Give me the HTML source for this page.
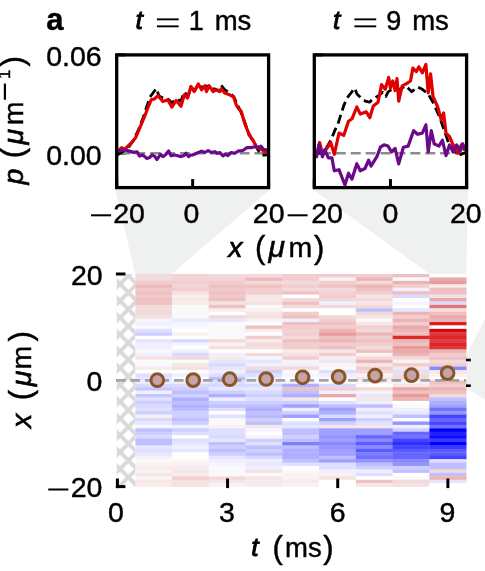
<!DOCTYPE html>
<html><head><meta charset="utf-8"><style>
html,body{margin:0;padding:0;background:#fff;width:485px;height:571px;overflow:hidden;position:relative}
text{font-family:"Liberation Sans",sans-serif;stroke:#000;stroke-width:0.45px}
</style></head><body>
<svg width="485" height="571" viewBox="0 0 485 571" style="position:absolute;left:0;top:0;will-change:transform">
<defs><pattern id="hatch" patternUnits="userSpaceOnUse" width="16.8" height="16.8" x="120.0" y="267.3"><rect width="16.8" height="16.8" fill="#fff"/><path d="M-3,-3 L19.8,19.8 M19.8,-3 L-3,19.8 M-3,13.8 L3,19.8 M13.8,-3 L19.8,3 M-3,3 L3,-3 M13.8,19.8 L19.8,13.8" stroke="#d9d9d9" stroke-width="3.9"/></pattern></defs>
<polygon points="115.2,189.2 270.1,189.2 171.9,274.0 135.2,274.0" fill="#eff0f0"/>
<polygon points="312.8,189.2 468.1,189.2 466.2,274.0 429.5,274.0" fill="#eff0f0"/>
<polygon points="466.2,356 485,319 485,399.5 466.2,388" fill="#eff0f0"/>
<rect x="135.20" y="274.00" width="37.08" height="3.73" fill="rgb(243,218,218)"/>
<rect x="135.20" y="277.43" width="37.08" height="3.73" fill="rgb(243,218,218)"/>
<rect x="135.20" y="280.86" width="37.08" height="3.73" fill="rgb(241,205,206)"/>
<rect x="135.20" y="284.29" width="37.08" height="3.73" fill="rgb(238,185,186)"/>
<rect x="135.20" y="287.72" width="37.08" height="3.73" fill="rgb(240,200,201)"/>
<rect x="135.20" y="291.15" width="37.08" height="3.73" fill="rgb(239,192,193)"/>
<rect x="135.20" y="294.57" width="37.08" height="3.73" fill="rgb(240,200,201)"/>
<rect x="135.20" y="298.00" width="37.08" height="3.73" fill="rgb(239,192,193)"/>
<rect x="135.20" y="301.43" width="37.08" height="3.73" fill="rgb(239,192,193)"/>
<rect x="135.20" y="304.86" width="37.08" height="3.73" fill="rgb(243,218,218)"/>
<rect x="135.20" y="308.29" width="37.08" height="3.73" fill="rgb(243,218,218)"/>
<rect x="135.20" y="311.72" width="37.08" height="3.73" fill="rgb(243,218,218)"/>
<rect x="135.20" y="315.15" width="37.08" height="3.73" fill="rgb(245,225,225)"/>
<rect x="135.20" y="318.58" width="37.08" height="3.73" fill="rgb(245,245,255)"/>
<rect x="135.20" y="322.01" width="37.08" height="3.73" fill="rgb(239,239,255)"/>
<rect x="135.20" y="325.44" width="37.08" height="3.73" fill="rgb(249,249,255)"/>
<rect x="135.20" y="328.86" width="37.08" height="3.73" fill="rgb(223,223,255)"/>
<rect x="135.20" y="332.29" width="37.08" height="3.73" fill="rgb(207,207,255)"/>
<rect x="135.20" y="335.72" width="37.08" height="3.73" fill="rgb(255,255,255)"/>
<rect x="135.20" y="339.15" width="37.08" height="3.73" fill="rgb(230,230,255)"/>
<rect x="135.20" y="342.58" width="37.08" height="3.73" fill="rgb(239,239,255)"/>
<rect x="135.20" y="346.01" width="37.08" height="3.73" fill="rgb(239,239,255)"/>
<rect x="135.20" y="349.44" width="37.08" height="3.73" fill="rgb(250,248,248)"/>
<rect x="135.20" y="352.87" width="37.08" height="3.73" fill="rgb(239,239,255)"/>
<rect x="135.20" y="356.30" width="37.08" height="3.73" fill="rgb(245,225,225)"/>
<rect x="135.20" y="359.73" width="37.08" height="3.73" fill="rgb(251,250,250)"/>
<rect x="135.20" y="363.15" width="37.08" height="3.73" fill="rgb(249,249,255)"/>
<rect x="135.20" y="366.58" width="37.08" height="3.73" fill="rgb(247,235,235)"/>
<rect x="135.20" y="370.01" width="37.08" height="3.73" fill="rgb(255,255,255)"/>
<rect x="135.20" y="373.44" width="37.08" height="3.73" fill="rgb(223,223,255)"/>
<rect x="135.20" y="376.87" width="37.08" height="3.73" fill="rgb(230,230,255)"/>
<rect x="135.20" y="380.30" width="37.08" height="3.73" fill="rgb(239,239,255)"/>
<rect x="135.20" y="383.73" width="37.08" height="3.73" fill="rgb(217,217,255)"/>
<rect x="135.20" y="387.16" width="37.08" height="3.73" fill="rgb(198,198,255)"/>
<rect x="135.20" y="390.59" width="37.08" height="3.73" fill="rgb(239,239,255)"/>
<rect x="135.20" y="394.02" width="37.08" height="3.73" fill="rgb(198,198,255)"/>
<rect x="135.20" y="397.45" width="37.08" height="3.73" fill="rgb(223,223,255)"/>
<rect x="135.20" y="400.87" width="37.08" height="3.73" fill="rgb(207,207,255)"/>
<rect x="135.20" y="404.30" width="37.08" height="3.73" fill="rgb(217,217,255)"/>
<rect x="135.20" y="407.73" width="37.08" height="3.73" fill="rgb(223,223,255)"/>
<rect x="135.20" y="411.16" width="37.08" height="3.73" fill="rgb(207,207,255)"/>
<rect x="135.20" y="414.59" width="37.08" height="3.73" fill="rgb(248,240,240)"/>
<rect x="135.20" y="418.02" width="37.08" height="3.73" fill="rgb(217,217,255)"/>
<rect x="135.20" y="421.45" width="37.08" height="3.73" fill="rgb(230,230,255)"/>
<rect x="135.20" y="424.88" width="37.08" height="3.73" fill="rgb(245,245,255)"/>
<rect x="135.20" y="428.31" width="37.08" height="3.73" fill="rgb(191,191,255)"/>
<rect x="135.20" y="431.74" width="37.08" height="3.73" fill="rgb(207,207,255)"/>
<rect x="135.20" y="435.16" width="37.08" height="3.73" fill="rgb(217,217,255)"/>
<rect x="135.20" y="438.59" width="37.08" height="3.73" fill="rgb(191,191,255)"/>
<rect x="135.20" y="442.02" width="37.08" height="3.73" fill="rgb(191,191,255)"/>
<rect x="135.20" y="445.45" width="37.08" height="3.73" fill="rgb(230,230,255)"/>
<rect x="135.20" y="448.88" width="37.08" height="3.73" fill="rgb(223,223,255)"/>
<rect x="135.20" y="452.31" width="37.08" height="3.73" fill="rgb(230,230,255)"/>
<rect x="135.20" y="455.74" width="37.08" height="3.73" fill="rgb(249,242,243)"/>
<rect x="135.20" y="459.17" width="37.08" height="3.73" fill="rgb(251,250,250)"/>
<rect x="135.20" y="462.60" width="37.08" height="3.73" fill="rgb(249,242,243)"/>
<rect x="135.20" y="466.03" width="37.08" height="3.73" fill="rgb(247,235,235)"/>
<rect x="135.20" y="469.45" width="37.08" height="3.73" fill="rgb(249,242,243)"/>
<rect x="135.20" y="472.88" width="37.08" height="3.73" fill="rgb(246,230,230)"/>
<rect x="135.20" y="476.31" width="37.08" height="3.73" fill="rgb(249,242,243)"/>
<rect x="135.20" y="479.74" width="37.08" height="3.73" fill="rgb(246,230,230)"/>
<rect x="135.20" y="483.17" width="37.08" height="3.73" fill="rgb(247,235,235)"/>
<rect x="171.98" y="274.00" width="37.08" height="3.73" fill="rgb(242,212,213)"/>
<rect x="171.98" y="277.43" width="37.08" height="3.73" fill="rgb(242,212,213)"/>
<rect x="171.98" y="280.86" width="37.08" height="3.73" fill="rgb(241,205,206)"/>
<rect x="171.98" y="284.29" width="37.08" height="3.73" fill="rgb(242,212,213)"/>
<rect x="171.98" y="287.72" width="37.08" height="3.73" fill="rgb(241,205,206)"/>
<rect x="171.98" y="291.15" width="37.08" height="3.73" fill="rgb(245,225,225)"/>
<rect x="171.98" y="294.57" width="37.08" height="3.73" fill="rgb(247,238,238)"/>
<rect x="171.98" y="298.00" width="37.08" height="3.73" fill="rgb(246,230,230)"/>
<rect x="171.98" y="301.43" width="37.08" height="3.73" fill="rgb(247,235,235)"/>
<rect x="171.98" y="304.86" width="37.08" height="3.73" fill="rgb(250,248,248)"/>
<rect x="171.98" y="308.29" width="37.08" height="3.73" fill="rgb(251,250,250)"/>
<rect x="171.98" y="311.72" width="37.08" height="3.73" fill="rgb(250,248,248)"/>
<rect x="171.98" y="315.15" width="37.08" height="3.73" fill="rgb(251,250,250)"/>
<rect x="171.98" y="318.58" width="37.08" height="3.73" fill="rgb(233,233,255)"/>
<rect x="171.98" y="322.01" width="37.08" height="3.73" fill="rgb(245,245,255)"/>
<rect x="171.98" y="325.44" width="37.08" height="3.73" fill="rgb(249,249,255)"/>
<rect x="171.98" y="328.86" width="37.08" height="3.73" fill="rgb(255,255,255)"/>
<rect x="171.98" y="332.29" width="37.08" height="3.73" fill="rgb(249,242,243)"/>
<rect x="171.98" y="335.72" width="37.08" height="3.73" fill="rgb(255,255,255)"/>
<rect x="171.98" y="339.15" width="37.08" height="3.73" fill="rgb(217,217,255)"/>
<rect x="171.98" y="342.58" width="37.08" height="3.73" fill="rgb(245,245,255)"/>
<rect x="171.98" y="346.01" width="37.08" height="3.73" fill="rgb(255,255,255)"/>
<rect x="171.98" y="349.44" width="37.08" height="3.73" fill="rgb(239,239,255)"/>
<rect x="171.98" y="352.87" width="37.08" height="3.73" fill="rgb(217,217,255)"/>
<rect x="171.98" y="356.30" width="37.08" height="3.73" fill="rgb(243,218,218)"/>
<rect x="171.98" y="359.73" width="37.08" height="3.73" fill="rgb(251,250,250)"/>
<rect x="171.98" y="363.15" width="37.08" height="3.73" fill="rgb(246,230,230)"/>
<rect x="171.98" y="366.58" width="37.08" height="3.73" fill="rgb(245,225,225)"/>
<rect x="171.98" y="370.01" width="37.08" height="3.73" fill="rgb(255,255,255)"/>
<rect x="171.98" y="373.44" width="37.08" height="3.73" fill="rgb(239,239,255)"/>
<rect x="171.98" y="376.87" width="37.08" height="3.73" fill="rgb(255,255,255)"/>
<rect x="171.98" y="380.30" width="37.08" height="3.73" fill="rgb(239,239,255)"/>
<rect x="171.98" y="383.73" width="37.08" height="3.73" fill="rgb(217,217,255)"/>
<rect x="171.98" y="387.16" width="37.08" height="3.73" fill="rgb(207,207,255)"/>
<rect x="171.98" y="390.59" width="37.08" height="3.73" fill="rgb(191,191,255)"/>
<rect x="171.98" y="394.02" width="37.08" height="3.73" fill="rgb(207,207,255)"/>
<rect x="171.98" y="397.45" width="37.08" height="3.73" fill="rgb(175,175,255)"/>
<rect x="171.98" y="400.87" width="37.08" height="3.73" fill="rgb(191,191,255)"/>
<rect x="171.98" y="404.30" width="37.08" height="3.73" fill="rgb(175,175,255)"/>
<rect x="171.98" y="407.73" width="37.08" height="3.73" fill="rgb(191,191,255)"/>
<rect x="171.98" y="411.16" width="37.08" height="3.73" fill="rgb(207,207,255)"/>
<rect x="171.98" y="414.59" width="37.08" height="3.73" fill="rgb(207,207,255)"/>
<rect x="171.98" y="418.02" width="37.08" height="3.73" fill="rgb(191,191,255)"/>
<rect x="171.98" y="421.45" width="37.08" height="3.73" fill="rgb(207,207,255)"/>
<rect x="171.98" y="424.88" width="37.08" height="3.73" fill="rgb(239,239,255)"/>
<rect x="171.98" y="428.31" width="37.08" height="3.73" fill="rgb(207,207,255)"/>
<rect x="171.98" y="431.74" width="37.08" height="3.73" fill="rgb(223,223,255)"/>
<rect x="171.98" y="435.16" width="37.08" height="3.73" fill="rgb(255,255,255)"/>
<rect x="171.98" y="438.59" width="37.08" height="3.73" fill="rgb(223,223,255)"/>
<rect x="171.98" y="442.02" width="37.08" height="3.73" fill="rgb(230,230,255)"/>
<rect x="171.98" y="445.45" width="37.08" height="3.73" fill="rgb(239,239,255)"/>
<rect x="171.98" y="448.88" width="37.08" height="3.73" fill="rgb(230,230,255)"/>
<rect x="171.98" y="452.31" width="37.08" height="3.73" fill="rgb(255,255,255)"/>
<rect x="171.98" y="455.74" width="37.08" height="3.73" fill="rgb(255,255,255)"/>
<rect x="171.98" y="459.17" width="37.08" height="3.73" fill="rgb(250,248,248)"/>
<rect x="171.98" y="462.60" width="37.08" height="3.73" fill="rgb(249,242,243)"/>
<rect x="171.98" y="466.03" width="37.08" height="3.73" fill="rgb(247,235,235)"/>
<rect x="171.98" y="469.45" width="37.08" height="3.73" fill="rgb(246,230,230)"/>
<rect x="171.98" y="472.88" width="37.08" height="3.73" fill="rgb(247,235,235)"/>
<rect x="171.98" y="476.31" width="37.08" height="3.73" fill="rgb(241,205,206)"/>
<rect x="171.98" y="479.74" width="37.08" height="3.73" fill="rgb(245,225,225)"/>
<rect x="171.98" y="483.17" width="37.08" height="3.73" fill="rgb(245,225,225)"/>
<rect x="208.76" y="274.00" width="37.08" height="3.73" fill="rgb(243,218,218)"/>
<rect x="208.76" y="277.43" width="37.08" height="3.73" fill="rgb(242,210,211)"/>
<rect x="208.76" y="280.86" width="37.08" height="3.73" fill="rgb(241,205,206)"/>
<rect x="208.76" y="284.29" width="37.08" height="3.73" fill="rgb(239,192,193)"/>
<rect x="208.76" y="287.72" width="37.08" height="3.73" fill="rgb(240,200,201)"/>
<rect x="208.76" y="291.15" width="37.08" height="3.73" fill="rgb(239,192,193)"/>
<rect x="208.76" y="294.57" width="37.08" height="3.73" fill="rgb(240,200,201)"/>
<rect x="208.76" y="298.00" width="37.08" height="3.73" fill="rgb(239,192,193)"/>
<rect x="208.76" y="301.43" width="37.08" height="3.73" fill="rgb(245,225,225)"/>
<rect x="208.76" y="304.86" width="37.08" height="3.73" fill="rgb(239,192,193)"/>
<rect x="208.76" y="308.29" width="37.08" height="3.73" fill="rgb(247,235,235)"/>
<rect x="208.76" y="311.72" width="37.08" height="3.73" fill="rgb(255,255,255)"/>
<rect x="208.76" y="315.15" width="37.08" height="3.73" fill="rgb(243,218,218)"/>
<rect x="208.76" y="318.58" width="37.08" height="3.73" fill="rgb(230,230,255)"/>
<rect x="208.76" y="322.01" width="37.08" height="3.73" fill="rgb(251,250,250)"/>
<rect x="208.76" y="325.44" width="37.08" height="3.73" fill="rgb(250,248,248)"/>
<rect x="208.76" y="328.86" width="37.08" height="3.73" fill="rgb(250,248,248)"/>
<rect x="208.76" y="332.29" width="37.08" height="3.73" fill="rgb(251,250,250)"/>
<rect x="208.76" y="335.72" width="37.08" height="3.73" fill="rgb(250,248,248)"/>
<rect x="208.76" y="339.15" width="37.08" height="3.73" fill="rgb(243,218,218)"/>
<rect x="208.76" y="342.58" width="37.08" height="3.73" fill="rgb(249,242,243)"/>
<rect x="208.76" y="346.01" width="37.08" height="3.73" fill="rgb(245,225,225)"/>
<rect x="208.76" y="349.44" width="37.08" height="3.73" fill="rgb(255,255,255)"/>
<rect x="208.76" y="352.87" width="37.08" height="3.73" fill="rgb(239,239,255)"/>
<rect x="208.76" y="356.30" width="37.08" height="3.73" fill="rgb(247,235,235)"/>
<rect x="208.76" y="359.73" width="37.08" height="3.73" fill="rgb(230,230,255)"/>
<rect x="208.76" y="363.15" width="37.08" height="3.73" fill="rgb(217,217,255)"/>
<rect x="208.76" y="366.58" width="37.08" height="3.73" fill="rgb(230,230,255)"/>
<rect x="208.76" y="370.01" width="37.08" height="3.73" fill="rgb(239,239,255)"/>
<rect x="208.76" y="373.44" width="37.08" height="3.73" fill="rgb(223,223,255)"/>
<rect x="208.76" y="376.87" width="37.08" height="3.73" fill="rgb(191,191,255)"/>
<rect x="208.76" y="380.30" width="37.08" height="3.73" fill="rgb(223,223,255)"/>
<rect x="208.76" y="383.73" width="37.08" height="3.73" fill="rgb(217,217,255)"/>
<rect x="208.76" y="387.16" width="37.08" height="3.73" fill="rgb(230,230,255)"/>
<rect x="208.76" y="390.59" width="37.08" height="3.73" fill="rgb(207,207,255)"/>
<rect x="208.76" y="394.02" width="37.08" height="3.73" fill="rgb(175,175,255)"/>
<rect x="208.76" y="397.45" width="37.08" height="3.73" fill="rgb(239,239,255)"/>
<rect x="208.76" y="400.87" width="37.08" height="3.73" fill="rgb(207,207,255)"/>
<rect x="208.76" y="404.30" width="37.08" height="3.73" fill="rgb(191,191,255)"/>
<rect x="208.76" y="407.73" width="37.08" height="3.73" fill="rgb(223,223,255)"/>
<rect x="208.76" y="411.16" width="37.08" height="3.73" fill="rgb(255,255,255)"/>
<rect x="208.76" y="414.59" width="37.08" height="3.73" fill="rgb(223,223,255)"/>
<rect x="208.76" y="418.02" width="37.08" height="3.73" fill="rgb(250,248,248)"/>
<rect x="208.76" y="421.45" width="37.08" height="3.73" fill="rgb(251,250,250)"/>
<rect x="208.76" y="424.88" width="37.08" height="3.73" fill="rgb(249,242,243)"/>
<rect x="208.76" y="428.31" width="37.08" height="3.73" fill="rgb(223,223,255)"/>
<rect x="208.76" y="431.74" width="37.08" height="3.73" fill="rgb(223,223,255)"/>
<rect x="208.76" y="435.16" width="37.08" height="3.73" fill="rgb(217,217,255)"/>
<rect x="208.76" y="438.59" width="37.08" height="3.73" fill="rgb(230,230,255)"/>
<rect x="208.76" y="442.02" width="37.08" height="3.73" fill="rgb(191,191,255)"/>
<rect x="208.76" y="445.45" width="37.08" height="3.73" fill="rgb(207,207,255)"/>
<rect x="208.76" y="448.88" width="37.08" height="3.73" fill="rgb(191,191,255)"/>
<rect x="208.76" y="452.31" width="37.08" height="3.73" fill="rgb(207,207,255)"/>
<rect x="208.76" y="455.74" width="37.08" height="3.73" fill="rgb(230,230,255)"/>
<rect x="208.76" y="459.17" width="37.08" height="3.73" fill="rgb(239,239,255)"/>
<rect x="208.76" y="462.60" width="37.08" height="3.73" fill="rgb(245,245,255)"/>
<rect x="208.76" y="466.03" width="37.08" height="3.73" fill="rgb(251,250,250)"/>
<rect x="208.76" y="469.45" width="37.08" height="3.73" fill="rgb(250,248,248)"/>
<rect x="208.76" y="472.88" width="37.08" height="3.73" fill="rgb(249,249,255)"/>
<rect x="208.76" y="476.31" width="37.08" height="3.73" fill="rgb(243,218,218)"/>
<rect x="208.76" y="479.74" width="37.08" height="3.73" fill="rgb(246,230,230)"/>
<rect x="208.76" y="483.17" width="37.08" height="3.73" fill="rgb(249,242,243)"/>
<rect x="245.53" y="274.00" width="37.08" height="3.73" fill="rgb(243,218,218)"/>
<rect x="245.53" y="277.43" width="37.08" height="3.73" fill="rgb(238,185,186)"/>
<rect x="245.53" y="280.86" width="37.08" height="3.73" fill="rgb(243,218,218)"/>
<rect x="245.53" y="284.29" width="37.08" height="3.73" fill="rgb(239,192,193)"/>
<rect x="245.53" y="287.72" width="37.08" height="3.73" fill="rgb(241,205,206)"/>
<rect x="245.53" y="291.15" width="37.08" height="3.73" fill="rgb(241,205,206)"/>
<rect x="245.53" y="294.57" width="37.08" height="3.73" fill="rgb(246,230,230)"/>
<rect x="245.53" y="298.00" width="37.08" height="3.73" fill="rgb(246,230,230)"/>
<rect x="245.53" y="301.43" width="37.08" height="3.73" fill="rgb(245,225,225)"/>
<rect x="245.53" y="304.86" width="37.08" height="3.73" fill="rgb(250,248,248)"/>
<rect x="245.53" y="308.29" width="37.08" height="3.73" fill="rgb(249,242,243)"/>
<rect x="245.53" y="311.72" width="37.08" height="3.73" fill="rgb(246,230,230)"/>
<rect x="245.53" y="315.15" width="37.08" height="3.73" fill="rgb(245,225,225)"/>
<rect x="245.53" y="318.58" width="37.08" height="3.73" fill="rgb(249,242,243)"/>
<rect x="245.53" y="322.01" width="37.08" height="3.73" fill="rgb(255,255,255)"/>
<rect x="245.53" y="325.44" width="37.08" height="3.73" fill="rgb(239,192,193)"/>
<rect x="245.53" y="328.86" width="37.08" height="3.73" fill="rgb(247,235,235)"/>
<rect x="245.53" y="332.29" width="37.08" height="3.73" fill="rgb(255,255,255)"/>
<rect x="245.53" y="335.72" width="37.08" height="3.73" fill="rgb(241,205,206)"/>
<rect x="245.53" y="339.15" width="37.08" height="3.73" fill="rgb(247,235,235)"/>
<rect x="245.53" y="342.58" width="37.08" height="3.73" fill="rgb(243,218,218)"/>
<rect x="245.53" y="346.01" width="37.08" height="3.73" fill="rgb(245,225,225)"/>
<rect x="245.53" y="349.44" width="37.08" height="3.73" fill="rgb(255,255,255)"/>
<rect x="245.53" y="352.87" width="37.08" height="3.73" fill="rgb(243,218,218)"/>
<rect x="245.53" y="356.30" width="37.08" height="3.73" fill="rgb(245,245,255)"/>
<rect x="245.53" y="359.73" width="37.08" height="3.73" fill="rgb(230,230,255)"/>
<rect x="245.53" y="363.15" width="37.08" height="3.73" fill="rgb(239,239,255)"/>
<rect x="245.53" y="366.58" width="37.08" height="3.73" fill="rgb(243,218,218)"/>
<rect x="245.53" y="370.01" width="37.08" height="3.73" fill="rgb(207,207,255)"/>
<rect x="245.53" y="373.44" width="37.08" height="3.73" fill="rgb(223,223,255)"/>
<rect x="245.53" y="376.87" width="37.08" height="3.73" fill="rgb(239,239,255)"/>
<rect x="245.53" y="380.30" width="37.08" height="3.73" fill="rgb(239,239,255)"/>
<rect x="245.53" y="383.73" width="37.08" height="3.73" fill="rgb(217,217,255)"/>
<rect x="245.53" y="387.16" width="37.08" height="3.73" fill="rgb(230,230,255)"/>
<rect x="245.53" y="390.59" width="37.08" height="3.73" fill="rgb(217,217,255)"/>
<rect x="245.53" y="394.02" width="37.08" height="3.73" fill="rgb(207,207,255)"/>
<rect x="245.53" y="397.45" width="37.08" height="3.73" fill="rgb(223,223,255)"/>
<rect x="245.53" y="400.87" width="37.08" height="3.73" fill="rgb(207,207,255)"/>
<rect x="245.53" y="404.30" width="37.08" height="3.73" fill="rgb(191,191,255)"/>
<rect x="245.53" y="407.73" width="37.08" height="3.73" fill="rgb(175,175,255)"/>
<rect x="245.53" y="411.16" width="37.08" height="3.73" fill="rgb(191,191,255)"/>
<rect x="245.53" y="414.59" width="37.08" height="3.73" fill="rgb(185,185,255)"/>
<rect x="245.53" y="418.02" width="37.08" height="3.73" fill="rgb(207,207,255)"/>
<rect x="245.53" y="421.45" width="37.08" height="3.73" fill="rgb(191,191,255)"/>
<rect x="245.53" y="424.88" width="37.08" height="3.73" fill="rgb(246,230,230)"/>
<rect x="245.53" y="428.31" width="37.08" height="3.73" fill="rgb(245,245,255)"/>
<rect x="245.53" y="431.74" width="37.08" height="3.73" fill="rgb(255,255,255)"/>
<rect x="245.53" y="435.16" width="37.08" height="3.73" fill="rgb(245,245,255)"/>
<rect x="245.53" y="438.59" width="37.08" height="3.73" fill="rgb(207,207,255)"/>
<rect x="245.53" y="442.02" width="37.08" height="3.73" fill="rgb(223,223,255)"/>
<rect x="245.53" y="445.45" width="37.08" height="3.73" fill="rgb(191,191,255)"/>
<rect x="245.53" y="448.88" width="37.08" height="3.73" fill="rgb(207,207,255)"/>
<rect x="245.53" y="452.31" width="37.08" height="3.73" fill="rgb(191,191,255)"/>
<rect x="245.53" y="455.74" width="37.08" height="3.73" fill="rgb(217,217,255)"/>
<rect x="245.53" y="459.17" width="37.08" height="3.73" fill="rgb(239,239,255)"/>
<rect x="245.53" y="462.60" width="37.08" height="3.73" fill="rgb(230,230,255)"/>
<rect x="245.53" y="466.03" width="37.08" height="3.73" fill="rgb(239,239,255)"/>
<rect x="245.53" y="469.45" width="37.08" height="3.73" fill="rgb(245,225,225)"/>
<rect x="245.53" y="472.88" width="37.08" height="3.73" fill="rgb(251,250,250)"/>
<rect x="245.53" y="476.31" width="37.08" height="3.73" fill="rgb(246,230,230)"/>
<rect x="245.53" y="479.74" width="37.08" height="3.73" fill="rgb(247,235,235)"/>
<rect x="245.53" y="483.17" width="37.08" height="3.73" fill="rgb(247,235,235)"/>
<rect x="282.31" y="274.00" width="37.08" height="3.73" fill="rgb(241,205,206)"/>
<rect x="282.31" y="277.43" width="37.08" height="3.73" fill="rgb(241,205,206)"/>
<rect x="282.31" y="280.86" width="37.08" height="3.73" fill="rgb(243,218,218)"/>
<rect x="282.31" y="284.29" width="37.08" height="3.73" fill="rgb(241,205,206)"/>
<rect x="282.31" y="287.72" width="37.08" height="3.73" fill="rgb(243,218,218)"/>
<rect x="282.31" y="291.15" width="37.08" height="3.73" fill="rgb(239,192,193)"/>
<rect x="282.31" y="294.57" width="37.08" height="3.73" fill="rgb(255,255,255)"/>
<rect x="282.31" y="298.00" width="37.08" height="3.73" fill="rgb(243,218,218)"/>
<rect x="282.31" y="301.43" width="37.08" height="3.73" fill="rgb(239,192,193)"/>
<rect x="282.31" y="304.86" width="37.08" height="3.73" fill="rgb(243,218,218)"/>
<rect x="282.31" y="308.29" width="37.08" height="3.73" fill="rgb(255,255,255)"/>
<rect x="282.31" y="311.72" width="37.08" height="3.73" fill="rgb(241,205,206)"/>
<rect x="282.31" y="315.15" width="37.08" height="3.73" fill="rgb(239,192,193)"/>
<rect x="282.31" y="318.58" width="37.08" height="3.73" fill="rgb(239,239,255)"/>
<rect x="282.31" y="322.01" width="37.08" height="3.73" fill="rgb(239,192,193)"/>
<rect x="282.31" y="325.44" width="37.08" height="3.73" fill="rgb(241,205,206)"/>
<rect x="282.31" y="328.86" width="37.08" height="3.73" fill="rgb(242,210,211)"/>
<rect x="282.31" y="332.29" width="37.08" height="3.73" fill="rgb(241,205,206)"/>
<rect x="282.31" y="335.72" width="37.08" height="3.73" fill="rgb(243,218,218)"/>
<rect x="282.31" y="339.15" width="37.08" height="3.73" fill="rgb(239,192,193)"/>
<rect x="282.31" y="342.58" width="37.08" height="3.73" fill="rgb(241,205,206)"/>
<rect x="282.31" y="346.01" width="37.08" height="3.73" fill="rgb(241,205,206)"/>
<rect x="282.31" y="349.44" width="37.08" height="3.73" fill="rgb(247,235,235)"/>
<rect x="282.31" y="352.87" width="37.08" height="3.73" fill="rgb(245,225,225)"/>
<rect x="282.31" y="356.30" width="37.08" height="3.73" fill="rgb(241,205,206)"/>
<rect x="282.31" y="359.73" width="37.08" height="3.73" fill="rgb(249,242,243)"/>
<rect x="282.31" y="363.15" width="37.08" height="3.73" fill="rgb(239,239,255)"/>
<rect x="282.31" y="366.58" width="37.08" height="3.73" fill="rgb(243,218,218)"/>
<rect x="282.31" y="370.01" width="37.08" height="3.73" fill="rgb(251,250,250)"/>
<rect x="282.31" y="373.44" width="37.08" height="3.73" fill="rgb(245,245,255)"/>
<rect x="282.31" y="376.87" width="37.08" height="3.73" fill="rgb(255,255,255)"/>
<rect x="282.31" y="380.30" width="37.08" height="3.73" fill="rgb(245,245,255)"/>
<rect x="282.31" y="383.73" width="37.08" height="3.73" fill="rgb(175,175,255)"/>
<rect x="282.31" y="387.16" width="37.08" height="3.73" fill="rgb(239,192,193)"/>
<rect x="282.31" y="390.59" width="37.08" height="3.73" fill="rgb(191,191,255)"/>
<rect x="282.31" y="394.02" width="37.08" height="3.73" fill="rgb(175,175,255)"/>
<rect x="282.31" y="397.45" width="37.08" height="3.73" fill="rgb(246,230,230)"/>
<rect x="282.31" y="400.87" width="37.08" height="3.73" fill="rgb(207,207,255)"/>
<rect x="282.31" y="404.30" width="37.08" height="3.73" fill="rgb(159,159,255)"/>
<rect x="282.31" y="407.73" width="37.08" height="3.73" fill="rgb(239,239,255)"/>
<rect x="282.31" y="411.16" width="37.08" height="3.73" fill="rgb(207,207,255)"/>
<rect x="282.31" y="414.59" width="37.08" height="3.73" fill="rgb(159,159,255)"/>
<rect x="282.31" y="418.02" width="37.08" height="3.73" fill="rgb(255,255,255)"/>
<rect x="282.31" y="421.45" width="37.08" height="3.73" fill="rgb(223,223,255)"/>
<rect x="282.31" y="424.88" width="37.08" height="3.73" fill="rgb(230,230,255)"/>
<rect x="282.31" y="428.31" width="37.08" height="3.73" fill="rgb(191,191,255)"/>
<rect x="282.31" y="431.74" width="37.08" height="3.73" fill="rgb(191,191,255)"/>
<rect x="282.31" y="435.16" width="37.08" height="3.73" fill="rgb(207,207,255)"/>
<rect x="282.31" y="438.59" width="37.08" height="3.73" fill="rgb(191,191,255)"/>
<rect x="282.31" y="442.02" width="37.08" height="3.73" fill="rgb(125,125,255)"/>
<rect x="282.31" y="445.45" width="37.08" height="3.73" fill="rgb(191,191,255)"/>
<rect x="282.31" y="448.88" width="37.08" height="3.73" fill="rgb(175,175,255)"/>
<rect x="282.31" y="452.31" width="37.08" height="3.73" fill="rgb(175,175,255)"/>
<rect x="282.31" y="455.74" width="37.08" height="3.73" fill="rgb(175,175,255)"/>
<rect x="282.31" y="459.17" width="37.08" height="3.73" fill="rgb(191,191,255)"/>
<rect x="282.31" y="462.60" width="37.08" height="3.73" fill="rgb(223,223,255)"/>
<rect x="282.31" y="466.03" width="37.08" height="3.73" fill="rgb(255,255,255)"/>
<rect x="282.31" y="469.45" width="37.08" height="3.73" fill="rgb(251,250,250)"/>
<rect x="282.31" y="472.88" width="37.08" height="3.73" fill="rgb(249,242,243)"/>
<rect x="282.31" y="476.31" width="37.08" height="3.73" fill="rgb(249,242,243)"/>
<rect x="282.31" y="479.74" width="37.08" height="3.73" fill="rgb(247,235,235)"/>
<rect x="282.31" y="483.17" width="37.08" height="3.73" fill="rgb(249,242,243)"/>
<rect x="319.09" y="274.00" width="37.08" height="3.73" fill="rgb(241,205,206)"/>
<rect x="319.09" y="277.43" width="37.08" height="3.73" fill="rgb(249,242,243)"/>
<rect x="319.09" y="280.86" width="37.08" height="3.73" fill="rgb(241,205,206)"/>
<rect x="319.09" y="284.29" width="37.08" height="3.73" fill="rgb(239,192,193)"/>
<rect x="319.09" y="287.72" width="37.08" height="3.73" fill="rgb(243,218,218)"/>
<rect x="319.09" y="291.15" width="37.08" height="3.73" fill="rgb(242,210,211)"/>
<rect x="319.09" y="294.57" width="37.08" height="3.73" fill="rgb(241,205,206)"/>
<rect x="319.09" y="298.00" width="37.08" height="3.73" fill="rgb(243,218,218)"/>
<rect x="319.09" y="301.43" width="37.08" height="3.73" fill="rgb(239,239,255)"/>
<rect x="319.09" y="304.86" width="37.08" height="3.73" fill="rgb(243,218,218)"/>
<rect x="319.09" y="308.29" width="37.08" height="3.73" fill="rgb(255,255,255)"/>
<rect x="319.09" y="311.72" width="37.08" height="3.73" fill="rgb(255,255,255)"/>
<rect x="319.09" y="315.15" width="37.08" height="3.73" fill="rgb(243,218,218)"/>
<rect x="319.09" y="318.58" width="37.08" height="3.73" fill="rgb(241,205,206)"/>
<rect x="319.09" y="322.01" width="37.08" height="3.73" fill="rgb(239,192,193)"/>
<rect x="319.09" y="325.44" width="37.08" height="3.73" fill="rgb(241,205,206)"/>
<rect x="319.09" y="328.86" width="37.08" height="3.73" fill="rgb(237,180,181)"/>
<rect x="319.09" y="332.29" width="37.08" height="3.73" fill="rgb(234,155,156)"/>
<rect x="319.09" y="335.72" width="37.08" height="3.73" fill="rgb(239,192,193)"/>
<rect x="319.09" y="339.15" width="37.08" height="3.73" fill="rgb(237,180,181)"/>
<rect x="319.09" y="342.58" width="37.08" height="3.73" fill="rgb(241,205,206)"/>
<rect x="319.09" y="346.01" width="37.08" height="3.73" fill="rgb(239,192,193)"/>
<rect x="319.09" y="349.44" width="37.08" height="3.73" fill="rgb(246,230,230)"/>
<rect x="319.09" y="352.87" width="37.08" height="3.73" fill="rgb(241,205,206)"/>
<rect x="319.09" y="356.30" width="37.08" height="3.73" fill="rgb(239,239,255)"/>
<rect x="319.09" y="359.73" width="37.08" height="3.73" fill="rgb(246,230,230)"/>
<rect x="319.09" y="363.15" width="37.08" height="3.73" fill="rgb(245,245,255)"/>
<rect x="319.09" y="366.58" width="37.08" height="3.73" fill="rgb(250,248,248)"/>
<rect x="319.09" y="370.01" width="37.08" height="3.73" fill="rgb(223,223,255)"/>
<rect x="319.09" y="373.44" width="37.08" height="3.73" fill="rgb(239,239,255)"/>
<rect x="319.09" y="376.87" width="37.08" height="3.73" fill="rgb(250,248,248)"/>
<rect x="319.09" y="380.30" width="37.08" height="3.73" fill="rgb(255,255,255)"/>
<rect x="319.09" y="383.73" width="37.08" height="3.73" fill="rgb(217,217,255)"/>
<rect x="319.09" y="387.16" width="37.08" height="3.73" fill="rgb(241,205,206)"/>
<rect x="319.09" y="390.59" width="37.08" height="3.73" fill="rgb(239,239,255)"/>
<rect x="319.09" y="394.02" width="37.08" height="3.73" fill="rgb(235,168,169)"/>
<rect x="319.09" y="397.45" width="37.08" height="3.73" fill="rgb(255,255,255)"/>
<rect x="319.09" y="400.87" width="37.08" height="3.73" fill="rgb(223,223,255)"/>
<rect x="319.09" y="404.30" width="37.08" height="3.73" fill="rgb(191,191,255)"/>
<rect x="319.09" y="407.73" width="37.08" height="3.73" fill="rgb(159,159,255)"/>
<rect x="319.09" y="411.16" width="37.08" height="3.73" fill="rgb(175,175,255)"/>
<rect x="319.09" y="414.59" width="37.08" height="3.73" fill="rgb(217,217,255)"/>
<rect x="319.09" y="418.02" width="37.08" height="3.73" fill="rgb(159,159,255)"/>
<rect x="319.09" y="421.45" width="37.08" height="3.73" fill="rgb(207,207,255)"/>
<rect x="319.09" y="424.88" width="37.08" height="3.73" fill="rgb(246,230,230)"/>
<rect x="319.09" y="428.31" width="37.08" height="3.73" fill="rgb(159,159,255)"/>
<rect x="319.09" y="431.74" width="37.08" height="3.73" fill="rgb(159,159,255)"/>
<rect x="319.09" y="435.16" width="37.08" height="3.73" fill="rgb(148,148,255)"/>
<rect x="319.09" y="438.59" width="37.08" height="3.73" fill="rgb(159,159,255)"/>
<rect x="319.09" y="442.02" width="37.08" height="3.73" fill="rgb(136,136,255)"/>
<rect x="319.09" y="445.45" width="37.08" height="3.73" fill="rgb(148,148,255)"/>
<rect x="319.09" y="448.88" width="37.08" height="3.73" fill="rgb(159,159,255)"/>
<rect x="319.09" y="452.31" width="37.08" height="3.73" fill="rgb(159,159,255)"/>
<rect x="319.09" y="455.74" width="37.08" height="3.73" fill="rgb(191,191,255)"/>
<rect x="319.09" y="459.17" width="37.08" height="3.73" fill="rgb(159,159,255)"/>
<rect x="319.09" y="462.60" width="37.08" height="3.73" fill="rgb(223,223,255)"/>
<rect x="319.09" y="466.03" width="37.08" height="3.73" fill="rgb(223,223,255)"/>
<rect x="319.09" y="469.45" width="37.08" height="3.73" fill="rgb(239,239,255)"/>
<rect x="319.09" y="472.88" width="37.08" height="3.73" fill="rgb(249,242,243)"/>
<rect x="319.09" y="476.31" width="37.08" height="3.73" fill="rgb(245,225,225)"/>
<rect x="319.09" y="479.74" width="37.08" height="3.73" fill="rgb(255,255,255)"/>
<rect x="319.09" y="483.17" width="37.08" height="3.73" fill="rgb(255,255,255)"/>
<rect x="355.87" y="274.00" width="37.08" height="3.73" fill="rgb(241,205,206)"/>
<rect x="355.87" y="277.43" width="37.08" height="3.73" fill="rgb(237,180,181)"/>
<rect x="355.87" y="280.86" width="37.08" height="3.73" fill="rgb(243,218,218)"/>
<rect x="355.87" y="284.29" width="37.08" height="3.73" fill="rgb(237,180,181)"/>
<rect x="355.87" y="287.72" width="37.08" height="3.73" fill="rgb(239,192,193)"/>
<rect x="355.87" y="291.15" width="37.08" height="3.73" fill="rgb(241,205,206)"/>
<rect x="355.87" y="294.57" width="37.08" height="3.73" fill="rgb(246,230,230)"/>
<rect x="355.87" y="298.00" width="37.08" height="3.73" fill="rgb(243,218,218)"/>
<rect x="355.87" y="301.43" width="37.08" height="3.73" fill="rgb(246,230,230)"/>
<rect x="355.87" y="304.86" width="37.08" height="3.73" fill="rgb(243,218,218)"/>
<rect x="355.87" y="308.29" width="37.08" height="3.73" fill="rgb(191,191,255)"/>
<rect x="355.87" y="311.72" width="37.08" height="3.73" fill="rgb(243,218,218)"/>
<rect x="355.87" y="315.15" width="37.08" height="3.73" fill="rgb(246,230,230)"/>
<rect x="355.87" y="318.58" width="37.08" height="3.73" fill="rgb(250,248,248)"/>
<rect x="355.87" y="322.01" width="37.08" height="3.73" fill="rgb(246,230,230)"/>
<rect x="355.87" y="325.44" width="37.08" height="3.73" fill="rgb(241,205,206)"/>
<rect x="355.87" y="328.86" width="37.08" height="3.73" fill="rgb(243,218,218)"/>
<rect x="355.87" y="332.29" width="37.08" height="3.73" fill="rgb(237,180,181)"/>
<rect x="355.87" y="335.72" width="37.08" height="3.73" fill="rgb(241,205,206)"/>
<rect x="355.87" y="339.15" width="37.08" height="3.73" fill="rgb(239,192,193)"/>
<rect x="355.87" y="342.58" width="37.08" height="3.73" fill="rgb(241,205,206)"/>
<rect x="355.87" y="346.01" width="37.08" height="3.73" fill="rgb(243,218,218)"/>
<rect x="355.87" y="349.44" width="37.08" height="3.73" fill="rgb(239,192,193)"/>
<rect x="355.87" y="352.87" width="37.08" height="3.73" fill="rgb(249,242,243)"/>
<rect x="355.87" y="356.30" width="37.08" height="3.73" fill="rgb(243,218,218)"/>
<rect x="355.87" y="359.73" width="37.08" height="3.73" fill="rgb(237,180,181)"/>
<rect x="355.87" y="363.15" width="37.08" height="3.73" fill="rgb(246,230,230)"/>
<rect x="355.87" y="366.58" width="37.08" height="3.73" fill="rgb(241,205,206)"/>
<rect x="355.87" y="370.01" width="37.08" height="3.73" fill="rgb(243,218,218)"/>
<rect x="355.87" y="373.44" width="37.08" height="3.73" fill="rgb(249,242,243)"/>
<rect x="355.87" y="376.87" width="37.08" height="3.73" fill="rgb(246,230,230)"/>
<rect x="355.87" y="380.30" width="37.08" height="3.73" fill="rgb(249,242,243)"/>
<rect x="355.87" y="383.73" width="37.08" height="3.73" fill="rgb(255,255,255)"/>
<rect x="355.87" y="387.16" width="37.08" height="3.73" fill="rgb(243,218,218)"/>
<rect x="355.87" y="390.59" width="37.08" height="3.73" fill="rgb(249,242,243)"/>
<rect x="355.87" y="394.02" width="37.08" height="3.73" fill="rgb(230,230,255)"/>
<rect x="355.87" y="397.45" width="37.08" height="3.73" fill="rgb(246,230,230)"/>
<rect x="355.87" y="400.87" width="37.08" height="3.73" fill="rgb(239,239,255)"/>
<rect x="355.87" y="404.30" width="37.08" height="3.73" fill="rgb(191,191,255)"/>
<rect x="355.87" y="407.73" width="37.08" height="3.73" fill="rgb(239,239,255)"/>
<rect x="355.87" y="411.16" width="37.08" height="3.73" fill="rgb(223,223,255)"/>
<rect x="355.87" y="414.59" width="37.08" height="3.73" fill="rgb(239,239,255)"/>
<rect x="355.87" y="418.02" width="37.08" height="3.73" fill="rgb(207,207,255)"/>
<rect x="355.87" y="421.45" width="37.08" height="3.73" fill="rgb(223,223,255)"/>
<rect x="355.87" y="424.88" width="37.08" height="3.73" fill="rgb(246,230,230)"/>
<rect x="355.87" y="428.31" width="37.08" height="3.73" fill="rgb(159,159,255)"/>
<rect x="355.87" y="431.74" width="37.08" height="3.73" fill="rgb(159,159,255)"/>
<rect x="355.87" y="435.16" width="37.08" height="3.73" fill="rgb(102,102,255)"/>
<rect x="355.87" y="438.59" width="37.08" height="3.73" fill="rgb(136,136,255)"/>
<rect x="355.87" y="442.02" width="37.08" height="3.73" fill="rgb(91,91,255)"/>
<rect x="355.87" y="445.45" width="37.08" height="3.73" fill="rgb(136,136,255)"/>
<rect x="355.87" y="448.88" width="37.08" height="3.73" fill="rgb(91,91,255)"/>
<rect x="355.87" y="452.31" width="37.08" height="3.73" fill="rgb(125,125,255)"/>
<rect x="355.87" y="455.74" width="37.08" height="3.73" fill="rgb(113,113,255)"/>
<rect x="355.87" y="459.17" width="37.08" height="3.73" fill="rgb(148,148,255)"/>
<rect x="355.87" y="462.60" width="37.08" height="3.73" fill="rgb(191,191,255)"/>
<rect x="355.87" y="466.03" width="37.08" height="3.73" fill="rgb(207,207,255)"/>
<rect x="355.87" y="469.45" width="37.08" height="3.73" fill="rgb(239,239,255)"/>
<rect x="355.87" y="472.88" width="37.08" height="3.73" fill="rgb(223,223,255)"/>
<rect x="355.87" y="476.31" width="37.08" height="3.73" fill="rgb(255,255,255)"/>
<rect x="355.87" y="479.74" width="37.08" height="3.73" fill="rgb(239,192,193)"/>
<rect x="355.87" y="483.17" width="37.08" height="3.73" fill="rgb(246,230,230)"/>
<rect x="392.64" y="274.00" width="37.08" height="3.73" fill="rgb(239,192,193)"/>
<rect x="392.64" y="277.43" width="37.08" height="3.73" fill="rgb(249,249,255)"/>
<rect x="392.64" y="280.86" width="37.08" height="3.73" fill="rgb(237,180,181)"/>
<rect x="392.64" y="284.29" width="37.08" height="3.73" fill="rgb(241,205,206)"/>
<rect x="392.64" y="287.72" width="37.08" height="3.73" fill="rgb(239,239,255)"/>
<rect x="392.64" y="291.15" width="37.08" height="3.73" fill="rgb(239,192,193)"/>
<rect x="392.64" y="294.57" width="37.08" height="3.73" fill="rgb(217,217,255)"/>
<rect x="392.64" y="298.00" width="37.08" height="3.73" fill="rgb(255,255,255)"/>
<rect x="392.64" y="301.43" width="37.08" height="3.73" fill="rgb(245,245,255)"/>
<rect x="392.64" y="304.86" width="37.08" height="3.73" fill="rgb(255,255,255)"/>
<rect x="392.64" y="308.29" width="37.08" height="3.73" fill="rgb(230,230,255)"/>
<rect x="392.64" y="311.72" width="37.08" height="3.73" fill="rgb(237,180,181)"/>
<rect x="392.64" y="315.15" width="37.08" height="3.73" fill="rgb(241,205,206)"/>
<rect x="392.64" y="318.58" width="37.08" height="3.73" fill="rgb(237,180,181)"/>
<rect x="392.64" y="322.01" width="37.08" height="3.73" fill="rgb(241,205,206)"/>
<rect x="392.64" y="325.44" width="37.08" height="3.73" fill="rgb(235,168,169)"/>
<rect x="392.64" y="328.86" width="37.08" height="3.73" fill="rgb(237,180,181)"/>
<rect x="392.64" y="332.29" width="37.08" height="3.73" fill="rgb(239,192,193)"/>
<rect x="392.64" y="335.72" width="37.08" height="3.73" fill="rgb(221,42,45)"/>
<rect x="392.64" y="339.15" width="37.08" height="3.73" fill="rgb(237,180,181)"/>
<rect x="392.64" y="342.58" width="37.08" height="3.73" fill="rgb(239,192,193)"/>
<rect x="392.64" y="346.01" width="37.08" height="3.73" fill="rgb(234,155,156)"/>
<rect x="392.64" y="349.44" width="37.08" height="3.73" fill="rgb(235,168,169)"/>
<rect x="392.64" y="352.87" width="37.08" height="3.73" fill="rgb(237,180,181)"/>
<rect x="392.64" y="356.30" width="37.08" height="3.73" fill="rgb(243,218,218)"/>
<rect x="392.64" y="359.73" width="37.08" height="3.73" fill="rgb(249,242,243)"/>
<rect x="392.64" y="363.15" width="37.08" height="3.73" fill="rgb(241,205,206)"/>
<rect x="392.64" y="366.58" width="37.08" height="3.73" fill="rgb(246,230,230)"/>
<rect x="392.64" y="370.01" width="37.08" height="3.73" fill="rgb(223,223,255)"/>
<rect x="392.64" y="373.44" width="37.08" height="3.73" fill="rgb(243,218,218)"/>
<rect x="392.64" y="376.87" width="37.08" height="3.73" fill="rgb(243,218,218)"/>
<rect x="392.64" y="380.30" width="37.08" height="3.73" fill="rgb(245,245,255)"/>
<rect x="392.64" y="383.73" width="37.08" height="3.73" fill="rgb(246,230,230)"/>
<rect x="392.64" y="387.16" width="37.08" height="3.73" fill="rgb(235,168,169)"/>
<rect x="392.64" y="390.59" width="37.08" height="3.73" fill="rgb(239,192,193)"/>
<rect x="392.64" y="394.02" width="37.08" height="3.73" fill="rgb(234,155,156)"/>
<rect x="392.64" y="397.45" width="37.08" height="3.73" fill="rgb(237,180,181)"/>
<rect x="392.64" y="400.87" width="37.08" height="3.73" fill="rgb(255,255,255)"/>
<rect x="392.64" y="404.30" width="37.08" height="3.73" fill="rgb(251,250,250)"/>
<rect x="392.64" y="407.73" width="37.08" height="3.73" fill="rgb(239,239,255)"/>
<rect x="392.64" y="411.16" width="37.08" height="3.73" fill="rgb(230,230,255)"/>
<rect x="392.64" y="414.59" width="37.08" height="3.73" fill="rgb(191,191,255)"/>
<rect x="392.64" y="418.02" width="37.08" height="3.73" fill="rgb(255,255,255)"/>
<rect x="392.64" y="421.45" width="37.08" height="3.73" fill="rgb(148,148,255)"/>
<rect x="392.64" y="424.88" width="37.08" height="3.73" fill="rgb(239,239,255)"/>
<rect x="392.64" y="428.31" width="37.08" height="3.73" fill="rgb(207,207,255)"/>
<rect x="392.64" y="431.74" width="37.08" height="3.73" fill="rgb(102,102,255)"/>
<rect x="392.64" y="435.16" width="37.08" height="3.73" fill="rgb(113,113,255)"/>
<rect x="392.64" y="438.59" width="37.08" height="3.73" fill="rgb(68,68,255)"/>
<rect x="392.64" y="442.02" width="37.08" height="3.73" fill="rgb(45,45,255)"/>
<rect x="392.64" y="445.45" width="37.08" height="3.73" fill="rgb(68,68,255)"/>
<rect x="392.64" y="448.88" width="37.08" height="3.73" fill="rgb(91,91,255)"/>
<rect x="392.64" y="452.31" width="37.08" height="3.73" fill="rgb(102,102,255)"/>
<rect x="392.64" y="455.74" width="37.08" height="3.73" fill="rgb(102,102,255)"/>
<rect x="392.64" y="459.17" width="37.08" height="3.73" fill="rgb(136,136,255)"/>
<rect x="392.64" y="462.60" width="37.08" height="3.73" fill="rgb(148,148,255)"/>
<rect x="392.64" y="466.03" width="37.08" height="3.73" fill="rgb(207,207,255)"/>
<rect x="392.64" y="469.45" width="37.08" height="3.73" fill="rgb(191,191,255)"/>
<rect x="392.64" y="472.88" width="37.08" height="3.73" fill="rgb(255,255,255)"/>
<rect x="392.64" y="476.31" width="37.08" height="3.73" fill="rgb(251,250,250)"/>
<rect x="392.64" y="479.74" width="37.08" height="3.73" fill="rgb(243,218,218)"/>
<rect x="392.64" y="483.17" width="37.08" height="3.73" fill="rgb(245,225,225)"/>
<rect x="429.42" y="274.00" width="37.08" height="3.73" fill="rgb(255,255,255)"/>
<rect x="429.42" y="277.43" width="37.08" height="3.73" fill="rgb(235,168,169)"/>
<rect x="429.42" y="280.86" width="37.08" height="3.73" fill="rgb(234,155,156)"/>
<rect x="429.42" y="284.29" width="37.08" height="3.73" fill="rgb(247,235,235)"/>
<rect x="429.42" y="287.72" width="37.08" height="3.73" fill="rgb(239,192,193)"/>
<rect x="429.42" y="291.15" width="37.08" height="3.73" fill="rgb(239,192,193)"/>
<rect x="429.42" y="294.57" width="37.08" height="3.73" fill="rgb(245,225,225)"/>
<rect x="429.42" y="298.00" width="37.08" height="3.73" fill="rgb(235,168,169)"/>
<rect x="429.42" y="301.43" width="37.08" height="3.73" fill="rgb(217,217,255)"/>
<rect x="429.42" y="304.86" width="37.08" height="3.73" fill="rgb(229,118,119)"/>
<rect x="429.42" y="308.29" width="37.08" height="3.73" fill="rgb(245,225,225)"/>
<rect x="429.42" y="311.72" width="37.08" height="3.73" fill="rgb(239,192,193)"/>
<rect x="429.42" y="315.15" width="37.08" height="3.73" fill="rgb(235,168,169)"/>
<rect x="429.42" y="318.58" width="37.08" height="3.73" fill="rgb(237,180,181)"/>
<rect x="429.42" y="322.01" width="37.08" height="3.73" fill="rgb(220,30,33)"/>
<rect x="429.42" y="325.44" width="37.08" height="3.73" fill="rgb(255,255,255)"/>
<rect x="429.42" y="328.86" width="37.08" height="3.73" fill="rgb(218,5,8)"/>
<rect x="429.42" y="332.29" width="37.08" height="3.73" fill="rgb(223,55,57)"/>
<rect x="429.42" y="335.72" width="37.08" height="3.73" fill="rgb(221,35,38)"/>
<rect x="429.42" y="339.15" width="37.08" height="3.73" fill="rgb(223,60,62)"/>
<rect x="429.42" y="342.58" width="37.08" height="3.73" fill="rgb(221,35,38)"/>
<rect x="429.42" y="346.01" width="37.08" height="3.73" fill="rgb(223,55,57)"/>
<rect x="429.42" y="349.44" width="37.08" height="3.73" fill="rgb(237,180,181)"/>
<rect x="429.42" y="352.87" width="37.08" height="3.73" fill="rgb(241,205,206)"/>
<rect x="429.42" y="356.30" width="37.08" height="3.73" fill="rgb(239,192,193)"/>
<rect x="429.42" y="359.73" width="37.08" height="3.73" fill="rgb(243,218,218)"/>
<rect x="429.42" y="363.15" width="37.08" height="3.73" fill="rgb(241,205,206)"/>
<rect x="429.42" y="366.58" width="37.08" height="3.73" fill="rgb(136,136,255)"/>
<rect x="429.42" y="370.01" width="37.08" height="3.73" fill="rgb(246,230,230)"/>
<rect x="429.42" y="373.44" width="37.08" height="3.73" fill="rgb(249,242,243)"/>
<rect x="429.42" y="376.87" width="37.08" height="3.73" fill="rgb(255,255,255)"/>
<rect x="429.42" y="380.30" width="37.08" height="3.73" fill="rgb(239,192,193)"/>
<rect x="429.42" y="383.73" width="37.08" height="3.73" fill="rgb(241,205,206)"/>
<rect x="429.42" y="387.16" width="37.08" height="3.73" fill="rgb(237,180,181)"/>
<rect x="429.42" y="390.59" width="37.08" height="3.73" fill="rgb(239,192,193)"/>
<rect x="429.42" y="394.02" width="37.08" height="3.73" fill="rgb(243,218,218)"/>
<rect x="429.42" y="397.45" width="37.08" height="3.73" fill="rgb(191,191,255)"/>
<rect x="429.42" y="400.87" width="37.08" height="3.73" fill="rgb(175,175,255)"/>
<rect x="429.42" y="404.30" width="37.08" height="3.73" fill="rgb(159,159,255)"/>
<rect x="429.42" y="407.73" width="37.08" height="3.73" fill="rgb(113,113,255)"/>
<rect x="429.42" y="411.16" width="37.08" height="3.73" fill="rgb(148,148,255)"/>
<rect x="429.42" y="414.59" width="37.08" height="3.73" fill="rgb(68,68,255)"/>
<rect x="429.42" y="418.02" width="37.08" height="3.73" fill="rgb(102,102,255)"/>
<rect x="429.42" y="421.45" width="37.08" height="3.73" fill="rgb(68,68,255)"/>
<rect x="429.42" y="424.88" width="37.08" height="3.73" fill="rgb(113,113,255)"/>
<rect x="429.42" y="428.31" width="37.08" height="3.73" fill="rgb(0,0,255)"/>
<rect x="429.42" y="431.74" width="37.08" height="3.73" fill="rgb(33,33,255)"/>
<rect x="429.42" y="435.16" width="37.08" height="3.73" fill="rgb(10,10,255)"/>
<rect x="429.42" y="438.59" width="37.08" height="3.73" fill="rgb(56,56,255)"/>
<rect x="429.42" y="442.02" width="37.08" height="3.73" fill="rgb(0,0,255)"/>
<rect x="429.42" y="445.45" width="37.08" height="3.73" fill="rgb(56,56,255)"/>
<rect x="429.42" y="448.88" width="37.08" height="3.73" fill="rgb(91,91,255)"/>
<rect x="429.42" y="452.31" width="37.08" height="3.73" fill="rgb(91,91,255)"/>
<rect x="429.42" y="455.74" width="37.08" height="3.73" fill="rgb(68,68,255)"/>
<rect x="429.42" y="459.17" width="37.08" height="3.73" fill="rgb(223,223,255)"/>
<rect x="429.42" y="462.60" width="37.08" height="3.73" fill="rgb(191,191,255)"/>
<rect x="429.42" y="466.03" width="37.08" height="3.73" fill="rgb(191,191,255)"/>
<rect x="429.42" y="469.45" width="37.08" height="3.73" fill="rgb(243,218,218)"/>
<rect x="429.42" y="472.88" width="37.08" height="3.73" fill="rgb(191,191,255)"/>
<rect x="429.42" y="476.31" width="37.08" height="3.73" fill="rgb(237,180,181)"/>
<rect x="429.42" y="479.74" width="37.08" height="3.73" fill="rgb(230,230,255)"/>
<rect x="429.42" y="483.17" width="37.08" height="3.73" fill="rgb(255,255,255)"/>
<rect x="116.7" y="274.0" width="18.499999999999986" height="212.60000000000002" fill="url(#hatch)"/>
<line x1="116" y1="380.4" x2="466" y2="380.4" stroke="#a3a3a3" stroke-width="2.6" stroke-dasharray="9.6 4.9"/>
<circle cx="157.3" cy="380.2" r="6.35" fill="#c4a4a8" stroke="#8a5527" stroke-width="3"/>
<circle cx="193.2" cy="380.1" r="6.35" fill="#c4a4a8" stroke="#8a5527" stroke-width="3"/>
<circle cx="229.7" cy="379.2" r="6.35" fill="#c4a4a8" stroke="#8a5527" stroke-width="3"/>
<circle cx="266.1" cy="379.0" r="6.35" fill="#c4a4a8" stroke="#8a5527" stroke-width="3"/>
<circle cx="302.6" cy="377.3" r="6.35" fill="#c4a4a8" stroke="#8a5527" stroke-width="3"/>
<circle cx="338.7" cy="376.9" r="6.35" fill="#c4a4a8" stroke="#8a5527" stroke-width="3"/>
<circle cx="375.1" cy="375.6" r="6.35" fill="#c4a4a8" stroke="#8a5527" stroke-width="3"/>
<circle cx="411.5" cy="375.2" r="6.35" fill="#c4a4a8" stroke="#8a5527" stroke-width="3"/>
<circle cx="447.6" cy="373.1" r="6.35" fill="#c4a4a8" stroke="#8a5527" stroke-width="3"/>
<line x1="115.9" y1="274.0" x2="125.4" y2="274.0" stroke="#000" stroke-width="3"/>
<line x1="115.9" y1="486.6" x2="125.4" y2="486.6" stroke="#000" stroke-width="3"/>
<line x1="117.4" y1="488.1" x2="117.4" y2="478.5" stroke="#000" stroke-width="3"/>
<line x1="227.56" y1="488.1" x2="227.56" y2="478.5" stroke="#000" stroke-width="3"/>
<line x1="337.72" y1="488.1" x2="337.72" y2="478.5" stroke="#000" stroke-width="3"/>
<line x1="447.88" y1="488.1" x2="447.88" y2="478.5" stroke="#000" stroke-width="3"/>
<line x1="466" y1="360" x2="470.8" y2="360" stroke="#000" stroke-width="2.6"/>
<line x1="466" y1="385.7" x2="470.8" y2="385.7" stroke="#000" stroke-width="2.6"/>
<line x1="116.7" y1="54.9" x2="125.2" y2="54.9" stroke="#000" stroke-width="3"/>
<line x1="116.7" y1="153.2" x2="125.2" y2="153.2" stroke="#000" stroke-width="3"/>
<svg x="116.7" y="54.9" width="151.90000000000003" height="132.7" viewBox="116.7 54.9 151.90000000000003 132.7" overflow="hidden">
<line x1="116.7" y1="153.2" x2="268.6" y2="153.2" stroke="#8c8c8c" stroke-width="2.6" stroke-dasharray="10 4.9" stroke-dashoffset="11.2"/>
<polyline points="117.0,155.0 122.0,152.0 128.0,148.0 133.0,141.0 138.0,131.0 143.0,118.0 147.0,106.0 150.0,97.0 153.0,93.0 156.3,88.5 159.0,96.0 163.0,98.0 168.0,99.0 172.0,103.0 176.0,99.0 181.0,101.0 184.0,92.0 188.0,96.0 191.0,88.0 195.0,90.0 199.0,84.0 203.0,88.0 207.0,86.0 211.0,89.0 215.0,89.0 219.0,91.0 221.0,85.0 225.0,90.0 230.0,93.0 234.0,97.0 237.0,104.0 240.0,110.0 243.0,117.0 246.0,126.0 249.0,135.0 252.0,139.0 255.0,144.0 258.0,150.0 262.0,155.0 266.0,155.0 269.0,152.0" fill="none" stroke="#000" stroke-width="2.8" stroke-linejoin="round" stroke-dasharray="9.2 4.6"/>
<polyline points="117.0,151.0 118.3,150.9 121.6,147.6 124.9,149.2 128.2,145.9 131.5,142.6 135.6,137.7 139.8,127.8 144.7,116.2 148.8,105.5 151.3,99.7 154.6,98.9 157.9,95.6 162.9,101.4 167.8,99.7 171.9,107.1 176.1,100.5 181.0,106.3 184.3,94.8 187.6,98.0 190.9,86.5 194.2,91.5 198.3,84.0 201.6,89.8 204.9,85.7 206.5,91.5 209.0,85.7 213.1,91.5 216.4,89.8 219.7,91.5 221.4,89.0 224.7,93.1 229.6,94.8 233.7,97.2 236.2,104.7 238.7,108.8 241.2,111.3 244.5,122.8 247.8,131.1 251.1,137.7 253.5,141.0 256.0,146.7 261.0,149.2 265.9,152.5 269.0,153.0" fill="none" stroke="#e00000" stroke-width="3.2" stroke-linejoin="round"/>
<polyline points="117.0,151.1 118.5,151.1 124.8,149.9 128.5,150.9 133.4,152.4 137.1,151.8 139.6,156.1 142.7,154.9 147.0,158.4 149.5,157.6 152.0,154.9 155.0,156.7 156.9,159.5 159.4,156.1 160.4,154.2 162.9,156.6 165.3,155.0 168.6,150.9 171.1,155.8 174.4,155.0 177.7,155.8 181.0,156.6 183.5,155.8 186.0,153.3 188.5,156.6 190.9,155.0 192.5,155.0 196.6,153.3 201.6,151.2 204.9,152.5 208.2,150.5 211.4,152.5 214.8,151.7 217.2,153.3 219.7,152.5 223.0,155.8 225.5,154.2 227.9,155.5 231.2,152.5 234.5,153.3 238.7,150.9 242.8,150.5 247.0,147.6 251.0,147.6 255.1,146.7 259.3,147.2 261.0,146.2 263.4,149.2 266.7,150.0 269.0,149.5" fill="none" stroke="#6a0a8a" stroke-width="3.2" stroke-linejoin="round"/>
</svg>
<rect x="116.7" y="54.9" width="151.90000000000003" height="132.7" fill="none" stroke="#000" stroke-width="3.3"/>
<line x1="116.7" y1="187.6" x2="116.7" y2="179.1" stroke="#000" stroke-width="3"/>
<line x1="192.65000000000003" y1="187.6" x2="192.65000000000003" y2="179.1" stroke="#000" stroke-width="3"/>
<line x1="268.6" y1="187.6" x2="268.6" y2="179.1" stroke="#000" stroke-width="3"/>
<line x1="314.3" y1="54.9" x2="322.8" y2="54.9" stroke="#000" stroke-width="3"/>
<line x1="314.3" y1="153.2" x2="322.8" y2="153.2" stroke="#000" stroke-width="3"/>
<svg x="314.3" y="54.9" width="152.3" height="132.7" viewBox="314.3 54.9 152.3 132.7" overflow="hidden">
<line x1="314.3" y1="153.2" x2="466.6" y2="153.2" stroke="#8c8c8c" stroke-width="2.6" stroke-dasharray="10 4.9" stroke-dashoffset="8.3"/>
<polyline points="314.5,156.0 318.0,153.0 322.0,150.0 326.5,147.6 331.0,140.0 335.0,130.0 338.0,124.0 341.0,114.0 344.0,105.0 347.0,98.0 351.0,93.0 354.6,88.2 357.0,94.0 359.5,96.4 362.9,99.8 366.2,101.4 369.5,102.2 372.0,99.8 374.4,98.1 378.0,96.0 382.6,92.3 385.9,96.4 388.0,92.0 390.9,89.8 393.0,88.5 399.8,89.3 405.8,85.8 411.7,91.7 417.6,87.0 422.3,89.3 428.2,94.0 433.0,102.3 438.9,115.4 443.6,128.4 448.4,142.6 453.1,148.5 457.8,155.6 463.7,153.2 467.0,152.0" fill="none" stroke="#000" stroke-width="2.8" stroke-linejoin="round" stroke-dasharray="9.2 4.6"/>
<polyline points="314.5,150.0 316.5,156.7 319.6,142.5 322.5,154.3 326.0,149.6 330.7,142.5 334.3,154.3 339.0,133.0 343.7,135.4 348.5,121.2 352.0,118.8 356.8,107.0 360.3,114.1 366.2,111.8 369.8,117.7 373.3,105.9 378.0,102.3 381.6,84.6 385.2,89.3 388.7,77.5 390.4,88.1 392.7,81.0 395.1,90.5 397.0,78.7 398.7,101.2 402.2,85.8 406.9,83.4 410.5,81.0 412.9,68.0 416.4,71.6 418.8,66.8 422.3,72.8 425.9,64.5 428.2,92.9 430.6,73.9 433.0,96.4 437.7,107.0 441.3,120.1 443.6,113.0 446.0,133.1 449.5,136.7 453.1,144.9 457.8,153.2 461.4,144.9 464.2,149.7 467.0,150.0" fill="none" stroke="#e00000" stroke-width="3.2" stroke-linejoin="round"/>
<polyline points="314.5,152.0 316.5,156.7 318.9,144.8 322.5,156.7 324.8,149.6 328.4,157.8 331.9,157.8 334.3,170.8 339.0,169.7 344.9,185.0 348.5,173.2 352.0,179.1 356.8,163.7 360.3,170.8 365.0,168.5 368.6,160.2 371.0,166.1 376.9,156.7 380.4,147.2 384.0,144.8 388.0,146.1 391.6,152.0 395.1,148.5 398.7,163.9 403.4,147.3 408.1,146.1 413.6,130.7 417.6,134.3 422.3,133.1 425.9,124.8 428.2,152.0 431.3,130.7 434.2,143.8 438.9,146.1 442.4,140.2 446.0,155.6 449.5,144.9 453.1,152.0 456.6,144.9 460.2,150.9 462.6,143.8 464.9,148.5 467.0,148.0" fill="none" stroke="#6a0a8a" stroke-width="3.2" stroke-linejoin="round"/>
</svg>
<rect x="314.3" y="54.9" width="152.3" height="132.7" fill="none" stroke="#000" stroke-width="3.3"/>
<line x1="314.3" y1="187.6" x2="314.3" y2="179.1" stroke="#000" stroke-width="3"/>
<line x1="390.45000000000005" y1="187.6" x2="390.45000000000005" y2="179.1" stroke="#000" stroke-width="3"/>
<line x1="466.6" y1="187.6" x2="466.6" y2="179.1" stroke="#000" stroke-width="3"/>
<text x="46.20" y="30.25" font-size="31" font-weight="bold">a</text>
<text x="135.60" y="29.20" font-size="26.5" font-style="italic" style="stroke-width:0.9px">t</text>
<rect x="156.9" y="18.4" width="21.8" height="1.9" fill="#000"/>
<rect x="156.9" y="25.4" width="21.8" height="1.9" fill="#000"/>
<text x="188.80" y="29.60" font-size="27" >1</text>
<text x="214.70" y="29.70" font-size="27.5" >ms</text>
<text x="333.10" y="29.20" font-size="26.5" font-style="italic" style="stroke-width:0.9px">t</text>
<rect x="354.4" y="18.4" width="21.8" height="1.9" fill="#000"/>
<rect x="354.4" y="25.4" width="21.8" height="1.9" fill="#000"/>
<text x="386.20" y="29.60" font-size="27" >9</text>
<text x="412.20" y="29.70" font-size="27.5" >ms</text>
<text x="46.20" y="66.40" font-size="28.5" >0.06</text>
<text x="46.20" y="164.60" font-size="28.5" >0.00</text>
<rect x="91" y="214.30" width="20.10" height="2.0" fill="#000"/>
<text x="113.20" y="223.20" font-size="28.5" >20</text>
<text x="183.50" y="223.20" font-size="28.5" >0</text>
<text x="252.80" y="223.20" font-size="28.5" >20</text>
<rect x="287.6" y="214.30" width="20.00" height="2.0" fill="#000"/>
<text x="311.20" y="223.20" font-size="28.5" >20</text>
<text x="382.50" y="223.20" font-size="28.5" >0</text>
<text x="450.00" y="223.20" font-size="28.5" >20</text>
<text x="228.30" y="257.20" font-size="28.5" font-style="italic" style="stroke-width:0.65px">x</text>
<text x="255.00" y="257.50" font-size="31" >(</text>
<text x="268.50" y="257.20" font-size="30" font-style="italic" style="stroke-width:0.65px">μ</text>
<text x="288.50" y="257.20" font-size="28.5" >m</text>
<text x="314.00" y="257.50" font-size="31" >)</text>
<text x="71.00" y="285.20" font-size="28.5" >20</text>
<text x="86.40" y="391.40" font-size="28.5" >0</text>
<rect x="48.25" y="488.50" width="20.15" height="2.0" fill="#000"/>
<text x="70.70" y="497.20" font-size="28.5" >20</text>
<text x="108.00" y="521.90" font-size="28.5" >0</text>
<text x="219.10" y="522.00" font-size="28.5" >3</text>
<text x="329.80" y="522.20" font-size="28.5" >6</text>
<text x="439.60" y="522.20" font-size="28.5" >9</text>
<text x="251.20" y="556.40" font-size="26.5" font-style="italic" style="stroke-width:0.9px">t</text>
<text x="272.40" y="558.30" font-size="31" >(</text>
<text x="285.10" y="556.60" font-size="27.5" >ms</text>
<text x="323.20" y="558.30" font-size="31" >)</text>
<text transform="translate(22.7,184.60) rotate(-90)" x="0" y="0" font-size="28.5" font-style="italic" style="stroke-width:0.65px">p</text>
<text transform="translate(22.7,158.30) rotate(-90)" x="0" y="0" font-size="31" >(</text>
<text transform="translate(22.7,144.50) rotate(-90)" x="0" y="0" font-size="28.5" font-style="italic" style="stroke-width:0.65px">μ</text>
<text transform="translate(22.7,125.30) rotate(-90)" x="0" y="0" font-size="28.5" >m</text>
<rect x="3.8" y="83.6" width="2.2" height="16.1" fill="#000"/>
<text transform="translate(9.8,79.00) rotate(-90)" x="0" y="0" font-size="17" >1</text>
<text transform="translate(22.7,66.60) rotate(-90)" x="0" y="0" font-size="31" >)</text>
<text transform="translate(30.8,428.00) rotate(-90)" x="0" y="0" font-size="28.5" font-style="italic" style="stroke-width:0.65px">x</text>
<text transform="translate(30.8,400.30) rotate(-90)" x="0" y="0" font-size="31" >(</text>
<text transform="translate(30.8,386.20) rotate(-90)" x="0" y="0" font-size="28.5" font-style="italic" style="stroke-width:0.65px">μ</text>
<text transform="translate(30.8,369.60) rotate(-90)" x="0" y="0" font-size="28.5" >m</text>
<text transform="translate(30.8,341.60) rotate(-90)" x="0" y="0" font-size="31" >)</text>
</svg>
</body></html>
